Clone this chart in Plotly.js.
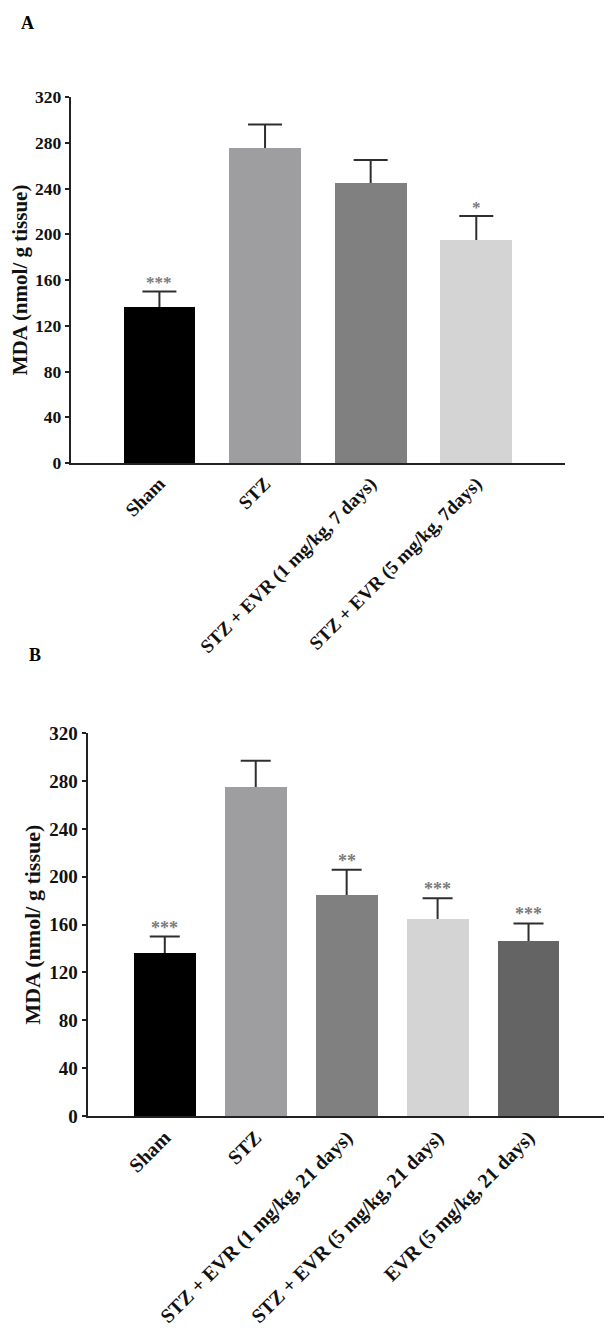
<!DOCTYPE html>
<html>
<head>
<meta charset="utf-8">
<script src="https://cdn.plot.ly/plotly-3.0.1.min.js"></script>
<style>html,body{margin:0;padding:0;background:#fff;}#chart{width:608px;height:1342px;}</style>
</head>
<body>
<div id="chart"></div>
<script>
// Panel A data
const categoriesA = ["Sham", "STZ", "STZ + EVR (1 mg/kg, 7 days)", "STZ + EVR (5 mg/kg, 7days)"];
const meansA = [136, 275, 245, 195];
const errA = [14, 21, 20, 21];
const sigA = ["***", "", "", "*"];
const colorsA = ["#000000", "#9e9ea1", "#808080", "#d4d4d4"];

// Panel B data
const categoriesB = ["Sham", "STZ", "STZ + EVR (1 mg/kg, 21 days)", "STZ + EVR (5 mg/kg, 21 days)", "EVR (5 mg/kg, 21 days)"];
const meansB = [136, 275, 185, 165, 146];
const errB = [14, 22, 21, 17, 15];
const sigB = ["***", "", "**", "***", "***"];
const colorsB = ["#000000", "#9e9ea1", "#808080", "#d4d4d4", "#646464"];

const yTitle = "MDA (nmol/ g tissue)";
const FONT = "Liberation Serif, Times New Roman, serif";

const idxA = categoriesA.map((c,i)=>i);
const idxB = categoriesB.map((c,i)=>i);

const traces = [
  // error bars (drawn on base axes, beneath the bars)
  {
    type: "scatter", mode: "markers", x: idxA, y: meansA,
    marker: {opacity: 0, size: 1},
    error_y: {type: "data", symmetric: true, array: errA, color: "#2e2e2e", thickness: 2, width: 17},
    xaxis: "x", yaxis: "y", hoverinfo: "skip"
  },
  {
    type: "scatter", mode: "markers", x: idxB, y: meansB,
    marker: {opacity: 0, size: 1},
    error_y: {type: "data", symmetric: true, array: errB, color: "#2e2e2e", thickness: 2, width: 15},
    xaxis: "x2", yaxis: "y2", hoverinfo: "skip"
  },
  // bars on overlaying axes so they hide the lower half of the error bars
  {
    type: "bar", x: idxA, y: meansA, width: 0.68,
    marker: {color: colorsA, line: {width: 0}},
    xaxis: "x", yaxis: "y3", hoverinfo: "skip"
  },
  {
    type: "bar", x: idxB, y: meansB, width: 0.68,
    marker: {color: colorsB, line: {width: 0}},
    xaxis: "x2", yaxis: "y4", hoverinfo: "skip"
  }
];

const H = 1342, W = 608;
const px = v => v / W;
const py = v => 1 - v / H;

function f(size, color) { return {family: FONT, size: size, color: color || "#111", weight: "bold"}; }

const annotations = [];
sigA.forEach((s,i)=>{ if(s) annotations.push({x:i, y:meansA[i]+errA[i], xref:"x", yref:"y", text:s, showarrow:false, yanchor:"bottom", yshift:-3, font:f(17, "#7a7a7a")}); });
sigB.forEach((s,i)=>{ if(s) annotations.push({x:i, y:meansB[i]+errB[i], xref:"x2", yref:"y2", text:s, showarrow:false, yanchor:"bottom", yshift:-3, font:f(18, "#7a7a7a")}); });
annotations.push({x:px(27), y:py(23), xref:"paper", yref:"paper", text:"A", showarrow:false, xanchor:"center", yanchor:"middle", font:f(18, "#000")});
annotations.push({x:px(35), y:py(655), xref:"paper", yref:"paper", text:"B", showarrow:false, xanchor:"center", yanchor:"middle", font:f(18, "#000")});

function yAxis(domain, anchor, tickSize, titleSize) {
  return {
    domain: domain, anchor: anchor, range: [0, 320], dtick: 40, tick0: 0,
    ticks: "outside", ticklen: 4, tickwidth: 2, tickcolor: "#222", tickfont: f(tickSize),
    showline: true, linecolor: "#222", linewidth: 2, showgrid: false, zeroline: false,
    title: {text: yTitle, font: f(titleSize), standoff: 2}
  };
}
function xAxis(domain, anchor, range, vals, text, size) {
  return {
    domain: domain, anchor: anchor, range: range,
    tickmode: "array", tickvals: vals, ticktext: text,
    tickangle: -45, tickfont: f(size), ticks: "", showline: true, linecolor: "#222", linewidth: 2,
    showgrid: false, zeroline: false
  };
}

const layout = {
  width: W, height: H,
  margin: {l:0, r:0, t:0, b:0},
  paper_bgcolor: "#fff", plot_bgcolor: "rgba(0,0,0,0)",
  showlegend: false,
  bargap: 0,
  xaxis: xAxis([px(70.7), px(565)], "y", [-0.84, 3.84], idxA, categoriesA, 19),
  yaxis: yAxis([py(463), py(97)], "x", 17.5, 21),
  xaxis2: xAxis([px(87.5), px(604)], "y2", [-0.85, 4.83], idxB, categoriesB, 20),
  yaxis2: yAxis([py(1116), py(733.3)], "x2", 19, 22),
  yaxis3: {overlaying: "y", anchor: "x", range: [0, 320], visible: false, showgrid: false, zeroline: false},
  yaxis4: {overlaying: "y2", anchor: "x2", range: [0, 320], visible: false, showgrid: false, zeroline: false},
  annotations: annotations
};

Plotly.newPlot("chart", traces, layout, {staticPlot: true, displayModeBar: false});
</script>
</body>
</html>
